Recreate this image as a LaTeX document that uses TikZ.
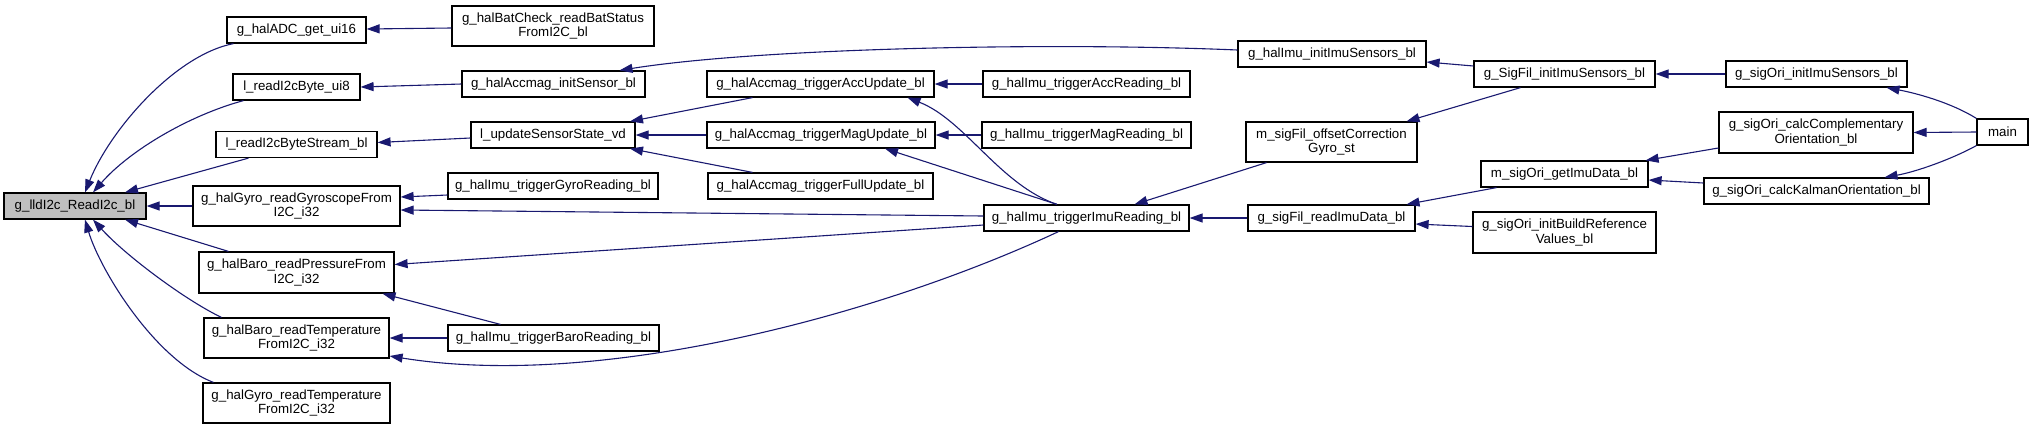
\documentclass[tikz,border=0pt]{standalone}
\usepackage{fontspec}
\setmainfont{Liberation Sans}
\usetikzlibrary{arrows.meta}
\definecolor{edgeblue}{HTML}{191970}
\definecolor{rootgray}{HTML}{BFBFBF}
\tikzset{
  fn/.style={draw=black, line width=1.2pt, fill=white, rectangle, inner sep=0pt, align=center,
    font=\fontsize{13.3}{14.5}\selectfont, minimum height=26pt},
  rootfn/.style={fn, fill=rootgray},
  call/.style={draw=edgeblue, line width=1.1pt, -{Triangle[length=13pt,width=9pt]}}
}
\begin{document}
\begin{tikzpicture}[x=1pt,y=-1pt]
\useasboundingbox (0,0) rectangle (2033,429);
% rank 0
\node[rootfn, minimum width=142pt] (root) at (75,206) {g\_lldI2c\_ReadI2c\_bl};
% rank 1
\node[fn, minimum width=139pt] (adc) at (296.5,30) {g\_halADC\_get\_ui16};
\node[fn, minimum width=127pt] (byte) at (296.5,87) {l\_readI2cByte\_ui8};
\node[fn, minimum width=161pt] (stream) at (296.5,144.5) {l\_readI2cByteStream\_bl};
\node[fn, minimum width=207pt, minimum height=40pt] (gyroR) at (296.5,206) {g\_halGyro\_readGyroscopeFrom\\I2C\_i32};
\node[fn, minimum width=195pt, minimum height=41pt] (baroP) at (296.5,272.5) {g\_halBaro\_readPressureFrom\\I2C\_i32};
\node[fn, minimum width=185pt, minimum height=40pt] (baroT) at (296.5,338) {g\_halBaro\_readTemperature\\FromI2C\_i32};
\node[fn, minimum width=187pt, minimum height=40pt] (gyroT) at (296.5,403) {g\_halGyro\_readTemperature\\FromI2C\_i32};
% rank 2
\node[fn, minimum width=202pt, minimum height=40pt] (bat) at (553,26) {g\_halBatCheck\_readBatStatus\\FromI2C\_bl};
\node[fn, minimum width=183pt] (initS) at (553.5,84) {g\_halAccmag\_initSensor\_bl};
\node[fn, minimum width=164pt] (upd) at (553,135) {l\_updateSensorState\_vd};
\node[fn, minimum width=210pt] (tGyro) at (553,186) {g\_halImu\_triggerGyroReading\_bl};
\node[fn, minimum width=211pt] (tBaro) at (553.5,338) {g\_halImu\_triggerBaroReading\_bl};
% rank 3
\node[fn, minimum width=227pt] (accU) at (820.5,84) {g\_halAccmag\_triggerAccUpdate\_bl};
\node[fn, minimum width=228pt] (magU) at (821,135) {g\_halAccmag\_triggerMagUpdate\_bl};
\node[fn, minimum width=225pt] (fullU) at (820.5,186) {g\_halAccmag\_triggerFullUpdate\_bl};
% rank 4
\node[fn, minimum width=207pt] (tAcc) at (1086.5,84) {g\_halImu\_triggerAccReading\_bl};
\node[fn, minimum width=209pt] (tMag) at (1086.5,135) {g\_halImu\_triggerMagReading\_bl};
\node[fn, minimum width=205pt] (tImu) at (1086.5,218) {g\_halImu\_triggerImuReading\_bl};
% rank 5
\node[fn, minimum width=188pt] (hInit) at (1332,54) {g\_halImu\_initImuSensors\_bl};
\node[fn, minimum width=171pt, minimum height=40pt] (offs) at (1331.5,142) {m\_sigFil\_offsetCorrection\\Gyro\_st};
\node[fn, minimum width=167pt] (rImu) at (1331.5,218) {g\_sigFil\_readImuData\_bl};
% rank 6
\node[fn, minimum width=181pt] (sfInit) at (1564.5,74) {g\_SigFil\_initImuSensors\_bl};
\node[fn, minimum width=167pt] (getI) at (1564.5,174) {m\_sigOri\_getImuData\_bl};
\node[fn, minimum width=183pt, minimum height=41pt] (bRef) at (1564.5,232.5) {g\_sigOri\_initBuildReference\\Values\_bl};
% rank 7
\node[fn, minimum width=181pt] (oInit) at (1816.5,74) {g\_sigOri\_initImuSensors\_bl};
\node[fn, minimum width=194pt, minimum height=41pt] (compl) at (1816,132.5) {g\_sigOri\_calcComplementary\\Orientation\_bl};
\node[fn, minimum width=225pt] (kalm) at (1816.5,191) {g\_sigOri\_calcKalmanOrientation\_bl};
% rank 8
\node[fn, minimum width=51pt] (main) at (2002.5,132) {main};

% edges into root
\draw[call] ([xshift=-63]adc.south) .. controls (175,55) and (110,130) .. ([xshift=10]root.north);
\draw[call] ([xshift=-53]byte.south) .. controls (190,115) and (130,150) .. ([xshift=18]root.north);
\draw[call] ([xshift=-48]stream.south) -- ([xshift=50]root.north);
\draw[call] (gyroR.west) -- (root.east);
\draw[call] ([xshift=-68]baroP.north) -- ([xshift=50]root.south);
\draw[call] ([xshift=-75]baroT.north) .. controls (185,300) and (125,255) .. ([xshift=18]root.south);
\draw[call] ([xshift=-83]gyroT.north) .. controls (155,360) and (100,270) .. ([xshift=10]root.south);
% rank 2 -> rank 1
\draw[call] ([yshift=-2]bat.west) -- ([yshift=1]adc.east);
\draw[call] (initS.west) -- (byte.east);
\draw[call] ([yshift=-3]upd.west) -- ([yshift=2]stream.east);
\draw[call] ([yshift=-9]tGyro.west) -- ([yshift=9]gyroR.east);
\draw[call] ([yshift=2]tImu.west) -- ([yshift=-4]gyroR.east);
\draw[call] ([yshift=-7]tImu.west) -- ([yshift=8]baroP.east);
\draw[call] ([xshift=-53]tBaro.north) -- ([xshift=86]baroP.south);
\draw[call] (tBaro.west) -- (baroT.east);
\draw[call] ([xshift=-28]tImu.south) .. controls (880,315) and (600,390) .. ([yshift=-18]baroT.east);
% rank 3 -> rank 2
\draw[call] ([xshift=-68]accU.south) -- ([xshift=77]upd.north);
\draw[call] (magU.west) -- (upd.east);
\draw[call] ([xshift=-68]fullU.north) -- ([xshift=77]upd.south);
\draw[call] ([yshift=4]hInit.west) .. controls (1050,42) and (760,48) .. ([xshift=66]initS.north);
% rank 4 -> rank 3
\draw[call] (tAcc.west) -- (accU.east);
\draw[call] (tMag.west) -- (magU.east);
\draw[call] ([xshift=-29.5]tImu.north) .. controls (1000,185) and (965,120) .. ([xshift=87]accU.south);
\draw[call] ([xshift=-29.5]tImu.north) -- ([xshift=64]magU.south);
% rank 5 -> rank 4
\draw[call] ([xshift=-65]offs.south) -- ([xshift=48]tImu.north);
\draw[call] (rImu.west) -- (tImu.east);
% rank 6 -> rank 5
\draw[call] ([yshift=8]sfInit.west) -- ([yshift=-8]hInit.east);
\draw[call] ([xshift=-44]sfInit.south) -- ([xshift=75]offs.north);
\draw[call] ([xshift=-68]getI.south) -- ([xshift=75]rImu.north);
\draw[call] ([yshift=6]bRef.west) -- ([yshift=-6]rImu.east);
% rank 7 -> rank 6
\draw[call] (oInit.west) -- (sfInit.east);
\draw[call] ([yshift=-15.5]compl.west) -- ([xshift=-3]getI.north east);
\draw[call] ([yshift=8]kalm.west) -- ([yshift=-6]getI.east);
% main
\draw[call] (main.north west) .. controls (1950,102) and (1915,93) .. ([xshift=70]oInit.south);
\draw[call] (main.west) -- (compl.east);
\draw[call] (main.south west) .. controls (1950,160) and (1915,172) .. ([xshift=68]kalm.north);
\end{tikzpicture}
\end{document}
